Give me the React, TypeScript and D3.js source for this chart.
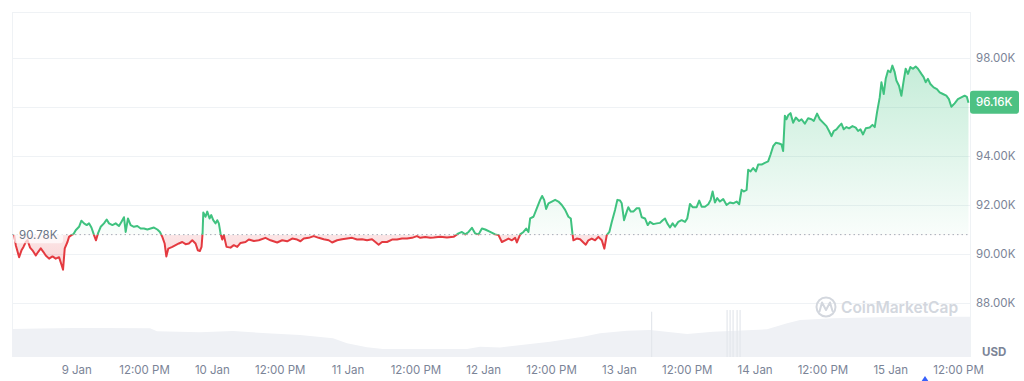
import React from 'react';
import * as d3 from 'd3';

// Price series: hours relative to 9 Jan 00:00, price in thousands USD
const priceHours = [
  -11.08, -10.78, -10.19, -9.77, -9.42, -9.01, -8.71, -8.25, -7.83, -7.24, -6.84, -6.36, -5.88, -5.48, -4.89, -4.29,
  -3.71, -3.13, -2.65, -2.42, -2.12, -1.64, -1.36, -0.94, -0.58, -0.18, 0.41, 0.83, 1.29, 1.77, 2.17, 2.6, 3.06, 3.41,
  3.76, 4.24, 4.82, 5.3, 5.71, 6.31, 6.89, 7.47, 7.9, 8.36, 8.66, 9.06, 9.54, 10.12, 10.72, 11.31, 11.89, 12.49, 13.07,
  13.66, 14.26, 14.72, 15.14, 15.55, 15.85, 16.2, 16.91, 17.49, 18.07, 18.67, 19.26, 19.84, 20.44, 21.02, 21.43, 21.78,
  22.08, 22.26, 22.39, 22.79, 23.09, 23.5, 23.8, 24.15, 24.56, 24.86, 25.14, 25.44, 25.74, 26.02, 26.5, 27.21, 27.79,
  28.39, 28.98, 29.86, 30.44, 31.33, 32.21, 33.39, 34.28, 35.46, 36.34, 37.23, 38.11, 38.99, 39.58, 40.16, 41.04, 41.93,
  42.81, 43.69, 44.58, 45.18, 46.06, 46.94, 47.83, 48.71, 49.59, 50.48, 51.36, 52.24, 52.83, 53.41, 54.01, 54.89, 55.78,
  56.66, 57.54, 58.43, 59.31, 60.19, 60.78, 61.66, 62.54, 63.13, 64.31, 65.49, 66.66, 67.54, 68.14, 68.73, 69.31, 69.91,
  70.49, 71.08, 71.68, 72.26, 73.14, 74.03, 74.61, 75.21, 75.8, 76.38, 76.98, 77.56, 77.86, 78.45, 79.03, 79.51, 79.91,
  80.21, 80.8, 81.4, 81.98, 82.33, 82.69, 83.04, 83.45, 84.05, 84.63, 85.21, 85.81, 86.4, 86.98, 87.4, 87.69, 87.86,
  88.46, 89.05, 89.63, 90.05, 90.51, 91.11, 91.7, 92.28, 92.88, 93.34, 93.76, 94.22, 94.65, 95.23, 95.64, 96.11, 96.41,
  96.82, 97.3, 97.58, 98.0, 98.46, 99.06, 99.52, 99.95, 100.53, 101.01, 101.41, 102.0, 102.6, 103.18, 103.66, 104.06,
  104.47, 104.95, 105.42, 105.83, 106.41, 107.01, 107.6, 108.0, 108.48, 108.96, 109.66, 110.12, 110.55, 111.13, 111.72,
  112.14, 112.49, 112.9, 113.3, 113.78, 114.36, 114.96, 115.55, 116.13, 116.73, 117.19, 117.61, 118.02, 118.5, 118.78,
  119.2, 119.66, 120.14, 120.55, 121.15, 121.73, 122.31, 122.74, 123.2, 123.67, 124.26, 124.68, 124.96, 125.27, 125.57,
  125.85, 126.27, 126.73, 127.21, 127.79, 128.22, 128.8, 129.38, 129.98, 130.39, 130.97, 131.45, 132.03, 132.63, 133.09,
  133.52, 133.92, 134.4, 134.86, 135.28, 135.69, 136.17, 136.63, 137.23, 137.81, 138.22, 138.64, 139.1, 139.58, 140.28,
  140.76, 141.17, 141.57, 142.05, 142.35, 142.76, 143.11, 143.52, 143.94, 144.29, 144.7, 145.0, 145.46, 145.88, 146.29,
  146.64, 147.05, 147.47, 147.93, 148.41, 148.82, 149.42, 149.82, 150.18, 150.58, 151.01, 151.59, 152.17, 152.65,
  153.23, 153.83, 154.29, 154.72, 155.3, 155.88, 156.48, 157.07, 157.47, 157.75,
];
const priceValues = [
  90.78, 90.35, 89.86, 90.14, 90.28, 90.48, 90.55, 90.25, 90.14, 89.93, 90.07, 90.22, 90.07, 89.93, 89.8, 89.89,
  89.8, 89.86, 89.52, 89.35, 90.22, 90.48, 90.69, 90.76, 90.8, 90.96, 91.1, 91.35, 91.24, 91.17, 91.24, 91.07, 90.76, 90.55,
  90.83, 91.1, 91.24, 91.4, 91.24, 91.17, 91.24, 91.13, 91.3, 91.49, 90.89, 91.44, 91.17, 91.1, 91.13, 91.03, 91.03, 90.99, 91.03,
  91.07, 90.99, 90.89, 90.69, 90.42, 89.89, 90.21, 90.28, 90.35, 90.42, 90.48, 90.39, 90.42, 90.55, 90.42, 90.14, 90.11,
  90.28, 90.83, 91.68, 91.51, 91.72, 91.44, 91.58, 91.37, 91.24, 91.37, 91.24, 90.83, 90.58, 90.76, 90.28, 90.25, 90.35,
  90.28, 90.44, 90.48, 90.58, 90.52, 90.55, 90.65, 90.55, 90.46, 90.55, 90.51, 90.62, 90.58, 90.51, 90.62, 90.65, 90.72,
  90.65, 90.59, 90.55, 90.46, 90.55, 90.59, 90.62, 90.65, 90.58, 90.59, 90.55, 90.59, 90.48, 90.37, 90.48, 90.48, 90.58,
  90.58, 90.62, 90.62, 90.65, 90.72, 90.65, 90.68, 90.65, 90.66, 90.69, 90.66, 90.69, 90.83, 90.89, 90.79, 90.89, 91.06,
  90.83, 90.79, 91.03, 90.99, 90.89, 90.79, 90.76, 90.48, 90.55, 90.62, 90.55, 90.65, 90.46, 90.79, 90.89, 91.03, 90.89,
  91.44, 91.51, 91.86, 92.2, 92.36, 92.2, 91.83, 92.06, 92.13, 92.2, 92.13, 91.99, 91.79, 91.51, 91.44, 90.83, 90.55,
  90.62, 90.59, 90.46, 90.37, 90.55, 90.62, 90.55, 90.69, 90.55, 90.21, 90.76, 90.89, 91.3, 91.79, 92.2, 92.17, 92.06,
  91.37, 91.72, 91.9, 91.72, 91.72, 91.86, 91.86, 91.49, 91.44, 91.17, 91.3, 91.21, 91.24, 91.26, 91.37, 91.44,
  91.24, 91.07, 91.24, 91.1, 91.3, 91.37, 91.3, 91.44, 92.03, 91.9, 91.9, 92.17, 91.92, 91.92, 92.02,
  92.2, 92.54, 92.09, 92.27, 92.13, 92.23, 91.99, 92.09, 92.06, 92.13, 92.02, 92.61, 92.54, 92.61, 93.43,
  93.36, 93.5, 93.36, 93.64, 93.64, 93.71, 93.77, 94.05, 94.39, 94.53, 94.5, 94.46, 94.19, 95.63, 95.49,
  95.65, 95.74, 95.35, 95.56, 95.42, 95.49, 95.31, 95.53, 95.49, 95.42, 95.72, 95.49, 95.35, 95.21, 95.01,
  94.8, 95.01, 95.08, 95.21, 95.31, 95.08, 95.17, 95.12, 95.21, 95.15, 95.01, 95.08, 94.87, 95.12, 95.15,
  95.26, 95.17, 95.77, 96.38, 97.0, 96.52, 97.14, 97.48, 97.41, 97.68, 97.41, 97.07, 96.86, 96.45, 97.07,
  97.55, 97.34, 97.62, 97.55, 97.64, 97.55, 97.34, 97.21, 97.0, 97.14, 96.93, 96.79, 96.72, 96.59,
  96.52, 96.45, 96.31, 96.0, 96.14, 96.31, 96.38, 96.45, 96.4, 96.16,
];

const baselinePrice = 90.78;
const baselineLabel = '90.78K';
const lastPriceLabel = '96.16K';
const yTicks = [88, 90, 92, 94, 96, 98];
const currencyLabel = 'USD';
const brandName = 'CoinMarketCap';

// Volume (relative units)
const volHours = [
  -11.45, -6.49, -0.3, 4.12, 12.97, 14.2, 21.81, 27.65, 33.66, 39.5, 45.34, 47.81, 51.35, 54.18, 69.04, 71.34, 74.88,
  83.72, 89.56, 92.57, 97.35, 101.42, 107.98, 112.58, 122.13, 125.67, 127.97, 133.81, 145.66, 156.27, 158.02,
];
const volValues = [
  46.7, 47.5, 48.3, 48.3, 48.0, 42.8, 41.2, 43.3, 39.5, 36.7, 31.2, 22.8, 16.2, 13.3, 13.3, 17.2, 16.0,
  25.5, 33.8, 39.5, 43.8, 45.0, 38.3, 42.2, 46.2, 56.2, 61.7, 64.5, 67.2, 67.2, 67.0,
];
const volSpikeHours = [101.7, 115.05, 115.58, 116.11, 116.82, 117.35];
const volSpikeValues = [75.5, 78.3, 78.3, 78.3, 78.3, 78.3];

const W = 1024;
const H = 381;
const L = 12;
const R = 970;
const T = 12;
const B = 357;
const baseMs = new Date(2025, 0, 9, 0, 0, 0).getTime();
const toDate = (h: number) => new Date(baseMs + h * 3600000);

const GREEN = '#3fc27f';
const TAG_GREEN = '#4dc183';
const RED = '#e43a40';
const FONT = 'Inter, "Noto Sans", sans-serif';

export default function App() {
  const x = d3.scaleTime().domain([toDate(-11.45), toDate(158.02)]).range([L, R]);
  const y = d3.scaleLinear().domain([88, 98]).range([302.75, 57.75]);
  const yv = d3.scaleLinear().domain([0, 100]).range([B, 297]);

  const pts = priceHours.map((h, i) => ({ d: toDate(h), v: priceValues[i] }));
  const baseY = y(baselinePrice);
  const line = d3.line<any>().x((p) => x(p.d)).y((p) => y(p.v));
  const area = d3.area<any>().x((p) => x(p.d)).y0(baseY).y1((p) => y(p.v));
  const linePath = line(pts) || '';
  const areaPath = area(pts) || '';

  const vpts = volHours.map((h, i) => ({ d: toDate(h), v: volValues[i] }));
  const volArea = d3.area<any>().x((p) => x(p.d)).y0(B).y1((p) => yv(p.v))(vpts) || '';

  const xTicks = x.ticks(d3.timeHour.every(12) as any);
  const fmtDay = d3.timeFormat('%-d %b');
  const fmtHour = d3.timeFormat('%I:%M %p');
  const lastY = y(priceValues[priceValues.length - 1]);
  const maxY = y(d3.max(priceValues) as number);
  const minY = y(d3.min(priceValues) as number);
  const visibleTicks = yTicks.filter((t) => Math.abs(y(t) - lastY) > 14);

  return (
    <svg width={W} height={H} style={{ position: 'absolute', left: 0, top: 0, background: '#fff' }} fontFamily={FONT}>
      <defs>
        <clipPath id="above"><rect x={0} y={0} width={W} height={baseY} /></clipPath>
        <clipPath id="below"><rect x={0} y={baseY} width={W} height={H - baseY} /></clipPath>
        <linearGradient id="gfill" gradientUnits="userSpaceOnUse" x1={0} x2={0} y1={maxY} y2={baseY}>
          <stop offset="0" stopColor={GREEN} stopOpacity={0.3} />
          <stop offset="1" stopColor={GREEN} stopOpacity={0.03} />
        </linearGradient>
        <linearGradient id="rfill" gradientUnits="userSpaceOnUse" x1={0} x2={0} y1={baseY} y2={minY}>
          <stop offset="0" stopColor={RED} stopOpacity={0.13} />
          <stop offset="1" stopColor={RED} stopOpacity={0.22} />
        </linearGradient>
      </defs>

      {/* frame */}
      <line x1={L} x2={R} y1={T + 0.5} y2={T + 0.5} stroke="#eff2f5" />
      <line x1={L + 0.5} x2={L + 0.5} y1={T} y2={B} stroke="#eff2f5" />
      <line x1={R + 0.5} x2={R + 0.5} y1={T} y2={B} stroke="#eff2f5" />

      {/* grid */}
      {yTicks.map((t) => (
        <line key={t} x1={L} x2={R} y1={Math.round(y(t)) + 0.5} y2={Math.round(y(t)) + 0.5} stroke="#eff2f5" />
      ))}

      {/* volume */}
      <path d={volArea} fill="#eff1f5" />
      {volSpikeHours.map((h, i) => (
        <rect key={i} x={x(toDate(h)) - 0.6} width={1.2} y={yv(volSpikeValues[i])} height={B - yv(volSpikeValues[i])} fill="#e4e7ec" />
      ))}

      {/* watermark */}
      <g>
        <circle cx={826} cy={307} r={9.5} fill="none" stroke="#d3d7de" strokeWidth={2} />
        <path d="M819.5,311.5 L822,302.5 L826,310 L830,302.5 L832.5,311" fill="none" stroke="#d3d7de" strokeWidth={2} strokeLinejoin="round" strokeLinecap="round" />
        <text x={841} y={312.5} fontSize={15.5} fontWeight={600} fill="#d3d7de">{brandName}</text>
      </g>

      {/* areas */}
      <path d={areaPath} fill="url(#gfill)" clipPath="url(#above)" />
      <path d={areaPath} fill="url(#rfill)" clipPath="url(#below)" />

      {/* baseline */}
      <line x1={L} x2={R} y1={baseY} y2={baseY} stroke="#a6acb9" strokeDasharray="1.5,3" strokeWidth={1} />

      {/* lines */}
      <path d={linePath} fill="none" stroke={GREEN} strokeWidth={2} strokeLinejoin="round" clipPath="url(#above)" />
      <path d={linePath} fill="none" stroke={RED} strokeWidth={2} strokeLinejoin="round" clipPath="url(#below)" />

      {/* baseline label */}
      <rect x={14} y={baseY - 8.5} width={49} height={17} rx={3} fill="#ffffff" opacity={0.7} />
      <text x={19} y={baseY} dy="0.35em" fontSize={11.5} fill="#6b7486">{baselineLabel}</text>

      {/* y axis labels */}
      {visibleTicks.map((t) => (
        <text key={t} x={976} y={y(t)} dy="0.35em" fontSize={11.5} fill="#7b8497">
          {d3.format('.2f')(t) + 'K'}
        </text>
      ))}

      {/* last price tag */}
      <rect x={970} y={lastY - 12} width={49} height={23} rx={3} fill={TAG_GREEN} />
      <text x={976} y={lastY - 0.5} dy="0.35em" fontSize={11.5} fill="#fff" fontWeight={500}>{lastPriceLabel}</text>

      <text x={982} y={352} dy="0.35em" fontSize={11.5} fontWeight={700} fill="#7b8497">{currencyLabel}</text>

      {/* x axis labels */}
      {xTicks.map((d, i) => (
        <text key={i} x={x(d)} y={370} dy="0.35em" textAnchor="middle" fontSize={11.5} fill="#7b8497">
          {d.getHours() === 0 ? fmtDay(d) : fmtHour(d)}
        </text>
      ))}

      {/* marker */}
      <path d="M921,382 L925,376 L929,382 Z" fill="#3861fb" />
    </svg>
  );
}
